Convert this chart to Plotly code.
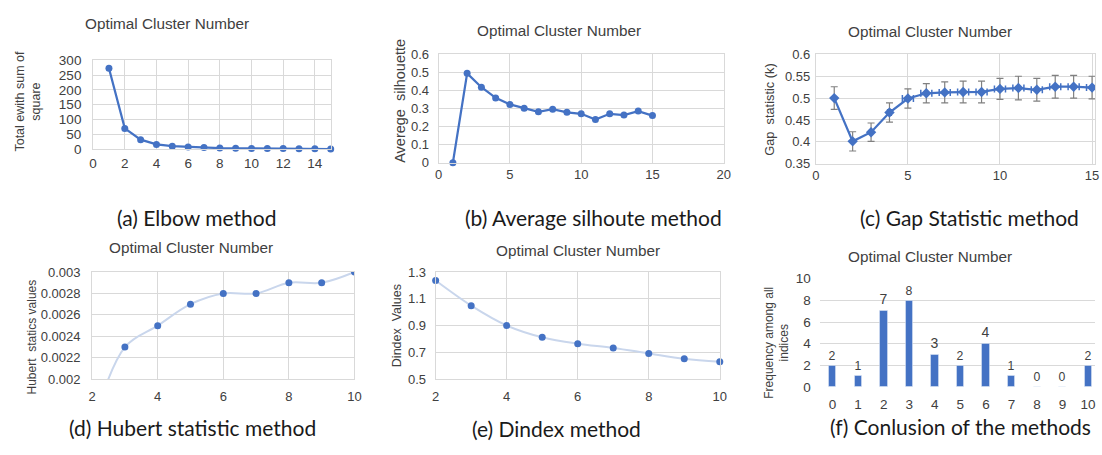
import plotly.graph_objects as go

W, H = 1102, 455

# ---------------- data ----------------
elbow_k = list(range(1, 16))
elbow_wss = [273, 70, 32, 16, 10, 7, 5.5, 3.5, 3, 2.5, 2, 2, 1, 1, 0.5]

sil_k = list(range(1, 16))
sil_val = [0, 0.495, 0.418, 0.359, 0.323, 0.302, 0.282, 0.296, 0.279, 0.271,
           0.239, 0.271, 0.264, 0.286, 0.261]

gap_k = list(range(1, 16))
gap_val = [0.500, 0.401, 0.422, 0.467, 0.499, 0.511, 0.513, 0.514, 0.514,
           0.521, 0.523, 0.519, 0.526, 0.526, 0.524]
gap_err = [0.026, 0.022, 0.021, 0.022, 0.022, 0.022, 0.024, 0.025, 0.025,
           0.024, 0.027, 0.026, 0.026, 0.026, 0.026]
gap_xerr = [0, 0, 0, 0.1, 0.3, 0.3, 0.3, 0.3, 0.3, 0.3, 0.3, 0.3, 0.3, 0.3, 0.3]

hub_k = list(range(2, 11))
hub_val = [0.00155, 0.0023, 0.0025, 0.0027, 0.0028, 0.0028, 0.0029, 0.0029, 0.003]

dind_k = list(range(2, 11))
dind_val = [1.236, 1.049, 0.901, 0.813, 0.765, 0.734, 0.693, 0.653, 0.631]

freq_k = list(range(0, 11))
freq_val = [2, 1, 7, 8, 3, 2, 4, 1, 0, 0, 2]

captions = ["(a) Elbow method", "(b) Average silhoute method", "(c) Gap Statistic method",
            "(d) Hubert statistic method", "(e) Dindex method", "(f) Conlusion of the methods"]
panel_title = "Optimal Cluster Number"
ytitles = ["Total ewith sum of<br>square", "Averege  silhouette", "Gap  statistic (k)",
           "Hubert  statics values", "Dindex  Values", "Frequency among all<br>indices"]

# ---------------- style ----------------
BLUE = "#4472C4"
LIGHT = "#c9d6ec"
GRID = "#d9d9d9"
TXT = "#404040"
FONT = "Liberation Sans, Arial, sans-serif"
CAPFONT = "Lato, Carlito, Calibri, sans-serif"
TTLSZ = 15.3
CAPSZ = 21


def px2x(p):
    return p / W


def px2y(p):
    return 1 - p / H


# panel geometry (pixels): x0, x1, y0(top), y1(bottom)
geo = {
    1: (90, 330, 55, 147),
    2: (439, 727, 49, 161),
    3: (820, 1102, 49, 162),
    4: (89, 354, 274, 385),
    5: (436, 723, 274, 385),
    6: (824, 1102, 281, 393),
}

fig = go.Figure()


def ax(n):
    return ("x" if n == 1 else f"x{n}"), ("y" if n == 1 else f"y{n}")


# (a)
xa, ya = ax(1)
fig.add_trace(go.Scatter(x=elbow_k, y=elbow_wss, mode="lines+markers", xaxis=xa, yaxis=ya,
                         line=dict(color=BLUE, width=2.25), marker=dict(color=BLUE, size=7),
                         cliponaxis=False))
# (b)
xa, ya = ax(2)
fig.add_trace(go.Scatter(x=sil_k, y=sil_val, mode="lines+markers", xaxis=xa, yaxis=ya,
                         line=dict(color=BLUE, width=2.25), marker=dict(color=BLUE, size=7),
                         cliponaxis=False))
# (c)
xa, ya = ax(3)
fig.add_trace(go.Scatter(x=gap_k, y=gap_val, mode="lines+markers", xaxis=xa, yaxis=ya,
                         line=dict(color=BLUE, width=2.25),
                         marker=dict(color=BLUE, size=8, symbol="diamond"),
                         error_y=dict(type="data", array=gap_err, color="#808080",
                                      thickness=1.2, width=3.5),
                         error_x=dict(type="data", array=gap_xerr, color=BLUE,
                                      thickness=1.5, width=3.5)))
# (d)
xa, ya = ax(4)
fig.add_trace(go.Scatter(x=hub_k, y=hub_val, mode="lines+markers", xaxis=xa, yaxis=ya,
                         line=dict(color=LIGHT, width=2, shape="spline"),
                         marker=dict(color=BLUE, size=7)))
# (e)
xa, ya = ax(5)
fig.add_trace(go.Scatter(x=dind_k, y=dind_val, mode="lines+markers", xaxis=xa, yaxis=ya,
                         line=dict(color=LIGHT, width=2, shape="spline"),
                         marker=dict(color=BLUE, size=7), cliponaxis=False))
# (f)
xa, ya = ax(6)
fig.add_trace(go.Bar(x=freq_k, y=freq_val, xaxis=xa, yaxis=ya, marker=dict(color=BLUE),
                     width=0.29, text=[str(v) for v in freq_val], textposition="outside",
                     textfont=dict(family=FONT, size=14, color=TXT), cliponaxis=False))

layout = dict(
    width=W, height=H, margin=dict(l=0, r=0, t=0, b=0),
    paper_bgcolor="white", plot_bgcolor="white", showlegend=False,
    font=dict(family=FONT, color=TXT),
    bargap=0,
)

xranges = {1: [0, 15], 2: [0, 20], 3: [0, 15.16], 4: [2, 10], 5: [2, 10], 6: [-0.5, 10.27]}
xdticks = {1: 2, 2: 5, 3: 5, 4: 2, 5: 2, 6: 1}
yranges = {1: [0, 300], 2: [0, 0.6], 3: [0.35, 0.6], 4: [0.002, 0.003], 5: [0.5, 1.3], 6: [0, 10]}
ydticks = {1: 50, 2: 0.1, 3: 0.05, 4: 0.0002, 5: 0.2, 6: 2}
ytickfmt = {5: ".1f"}
tickfs = {1: 13.5, 2: 13, 3: 13, 4: 13, 5: 13, 6: 13.5}
xstand = {1: 2, 2: 0, 3: 0, 4: 5, 5: 5, 6: 7}
ystand = {1: 8, 2: 6, 3: 2, 4: 8, 5: 6, 6: 8}

for n in range(1, 7):
    x0, x1, y0, y1 = geo[n]
    xk = "xaxis" if n == 1 else f"xaxis{n}"
    yk = "yaxis" if n == 1 else f"yaxis{n}"
    xa, ya = ax(n)
    isbar = n == 6
    layout[xk] = dict(
        domain=[px2x(x0), min(px2x(x1), 1)], anchor=ya, range=xranges[n],
        tickmode="linear", tick0=0, dtick=xdticks[n],
        showgrid=not isbar, gridcolor=GRID, gridwidth=1, zeroline=False,
        showline=not isbar, linecolor=GRID, linewidth=1, mirror=not isbar,
        ticks="", ticklabelstandoff=xstand[n],
        tickfont=dict(size=tickfs[n], color=TXT, family=FONT),
        fixedrange=True,
    )
    yd = dict(
        domain=[px2y(y1), px2y(y0)], anchor=xa, range=yranges[n],
        tickmode="linear", tick0=yranges[n][0], dtick=ydticks[n],
        showgrid=True, gridcolor=GRID, gridwidth=1, zeroline=False,
        showline=not isbar, linecolor=GRID, linewidth=1, mirror=not isbar,
        ticks="", ticklabelstandoff=ystand[n],
        tickfont=dict(size=tickfs[n], color=TXT, family=FONT),
        fixedrange=True,
    )
    if n in ytickfmt:
        yd["tickformat"] = ytickfmt[n]
    layout[yk] = yd

fig.update_layout(**layout)

# panel titles (centre x, y in px)
title_pos = [(165, 17), (561, 24), (935, 25), (189, 249), (580, 252), (935, 258)]
for (cx, cy) in title_pos:
    fig.add_annotation(text=panel_title, x=px2x(cx), y=px2y(cy), xref="paper", yref="paper",
                       showarrow=False, xanchor="center", yanchor="middle",
                       font=dict(size=TTLSZ, color=TXT, family=FONT))

# y-axis titles (rotated annotations): centre x, centre y, font size
ytitle_pos = [(24, 97, 12.5), (400, 97, 14.5), (773, 106, 12.8),
              (28, 341, 12), (397, 330, 12.5), (780, 347, 12)]
for text, (cx, cy, fs) in zip(ytitles, ytitle_pos):
    fig.add_annotation(text=text, x=px2x(cx), y=px2y(cy), xref="paper", yref="paper",
                       showarrow=False, xanchor="center", yanchor="middle", textangle=-90,
                       font=dict(size=fs, color=TXT, family=FONT))

cap_pos = [(194, 218), (595, 218), (975, 218), (190, 435), (558, 436), (966, 434)]
for text, (cx, cy) in zip(captions, cap_pos):
    fig.add_annotation(text=text, x=px2x(cx), y=px2y(cy), xref="paper", yref="paper",
                       showarrow=False, xanchor="center", yanchor="middle",
                       font=dict(size=CAPSZ, color="#1a1a1a", family=CAPFONT))

fig.write_html("out.html")
